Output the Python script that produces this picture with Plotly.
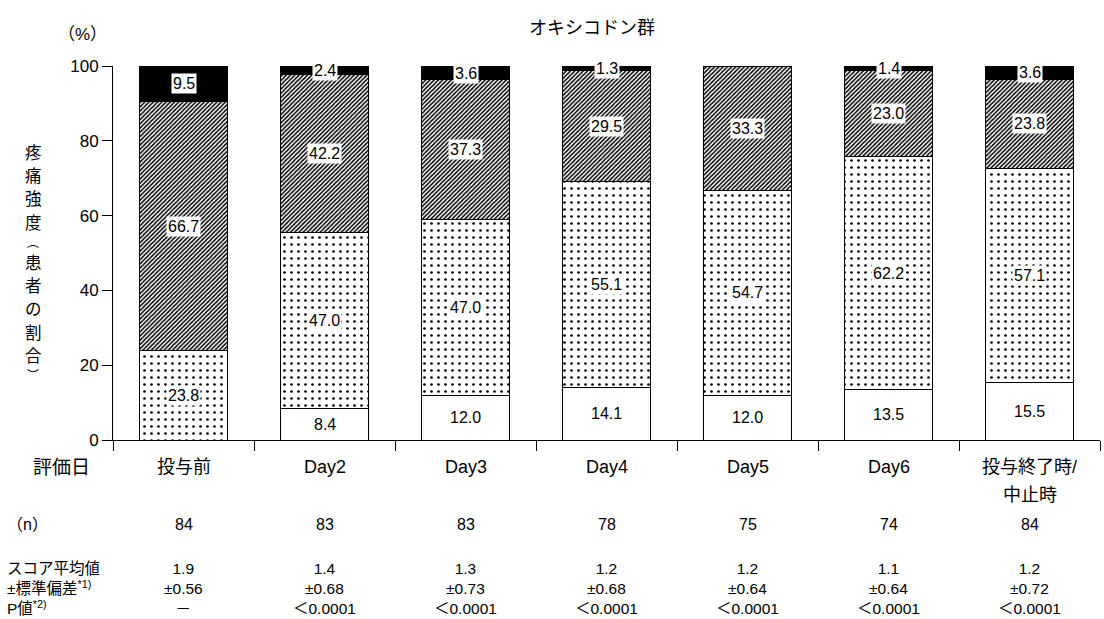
import plotly.graph_objects as go

# Evaluation days (x categories)
days = ["投与前", "Day2", "Day3", "Day4", "Day5", "Day6", "投与終了時/<br>中止時"]

# Share of patients (%) per pain intensity, bottom to top of each stack
none_pct     = [0.0, 8.4, 12.0, 14.1, 12.0, 13.5, 15.5]
mild_pct     = [23.8, 47.0, 47.0, 55.1, 54.7, 62.2, 57.1]
moderate_pct = [66.7, 42.2, 37.3, 29.5, 33.3, 23.0, 23.8]
severe_pct   = [9.5, 2.4, 3.6, 1.3, 0.0, 1.4, 3.6]

# Summary table rows
n_patients = [84, 83, 83, 78, 75, 74, 84]
score_mean = [1.9, 1.4, 1.3, 1.2, 1.2, 1.1, 1.2]
score_sd = [0.56, 0.68, 0.73, 0.68, 0.64, 0.64, 0.72]
p_values = ["－", "＜0.0001", "＜0.0001", "＜0.0001", "＜0.0001", "＜0.0001", "＜0.0001"]

FONT = "Liberation Sans, Noto Sans CJK JP, sans-serif"
CJK = "Noto Sans CJK JP, sans-serif"
W, H = 1104, 619
L, R, T, B = 113, 4, 66, 179
PW, PH = W - L - R, H - T - B


def px_x(px):
    return (px - L) / PW


def px_y(py):
    return (H - B - py) / PH


series = [
    (none_pct, dict(color="white")),
    (mild_pct, dict(color="white", pattern=dict(shape=".", fgcolor="black", bgcolor="white",
                                                size=7, solidity=0.12, fillmode="replace"))),
    (moderate_pct, dict(color="white", pattern=dict(shape="/", fgcolor="black", bgcolor="white",
                                                    size=3, solidity=0.5, fillmode="replace"))),
    (severe_pct, dict(color="black")),
]

fig = go.Figure()
for vals, mk in series:
    mk = dict(mk)
    mk["line"] = dict(color="black", width=1)
    fig.add_trace(go.Bar(x=days, y=vals, width=0.63, marker=mk, showlegend=False,
                         hoverinfo="skip"))

annotations = []


def note(x, y, text, size, xref="paper", yref="paper", family=FONT, xanchor="center", **kw):
    kw.setdefault("borderpad", 0)
    annotations.append(dict(x=x, y=y, xref=xref, yref=yref, text=text, showarrow=False,
                            xanchor=xanchor, yanchor="middle",
                            font=dict(size=size, color="black", family=family), **kw))


# value labels in white boxes at the middle of each segment
for i, d in enumerate(days):
    base = 0.0
    for vals, _ in series:
        v = vals[i]
        if v > 0:
            note(d, base + v / 2, f"{v:.1f}", 16, xref="x", yref="y",
                 bgcolor="white", borderpad=1)
        base += v

# title and axis captions
note(px_x(592), px_y(26), "オキシコドン群", 18, family=CJK)
note(px_x(82), px_y(35), "（%）", 17)

# vertical y-axis caption, one glyph per row (brackets take a shorter slot)
y_caption = "疼痛強度︵患者の割合︶"
cy = 152.0
prev_half = 0.0
for ch in y_caption:
    narrow = ch in "︵︶"
    half = 8.6 if narrow else 11.6
    cy += prev_half + half if prev_half else 0.0
    note(px_x(33), px_y(cy), ch, 12 if narrow else 16.5, family=CJK)
    prev_half = half

# category labels under the axis
for i, d in enumerate(days):
    parts = d.split("<br>")
    for k, part in enumerate(parts):
        note(d, px_y(467 + 28 * k), part, 18, xref="x")

# summary table, left captions
note(px_x(61), px_y(467), "評価日", 19)
note(px_x(6), px_y(524), "（n）", 16, xanchor="left")
note(px_x(6), px_y(588.5), "スコア平均値<br>±標準偏差<sup>*1)</sup><br>P値<sup>*2)</sup>", 15.5,
     xanchor="left", align="left")

# summary table, values per day
for i, d in enumerate(days):
    note(d, px_y(524), str(n_patients[i]), 16, xref="x")
    note(d, px_y(588.5), f"{score_mean[i]:.1f}<br>±{score_sd[i]:.2f}<br>{p_values[i]}", 15.5,
         xref="x")

fig.update_layout(
    width=W, height=H,
    margin=dict(l=L, r=R, t=T, b=B),
    plot_bgcolor="white", paper_bgcolor="white",
    barmode="stack",
    font=dict(family=FONT, color="black"),
    annotations=annotations,
    xaxis=dict(type="category", tickson="boundaries", ticks="outside", ticklen=10,
               tickcolor="black", showline=True, linecolor="black", linewidth=1,
               showgrid=False, showticklabels=False, range=[-0.5, 6.5]),
    yaxis=dict(range=[0, 100], tickvals=[0, 20, 40, 60, 80, 100], ticks="outside", ticklen=10,
               tickcolor="black", showline=True, linecolor="black", linewidth=1,
               showgrid=False, zeroline=False, tickfont=dict(size=17, family=FONT, color="black")),
)

fig.write_html("out.html")
